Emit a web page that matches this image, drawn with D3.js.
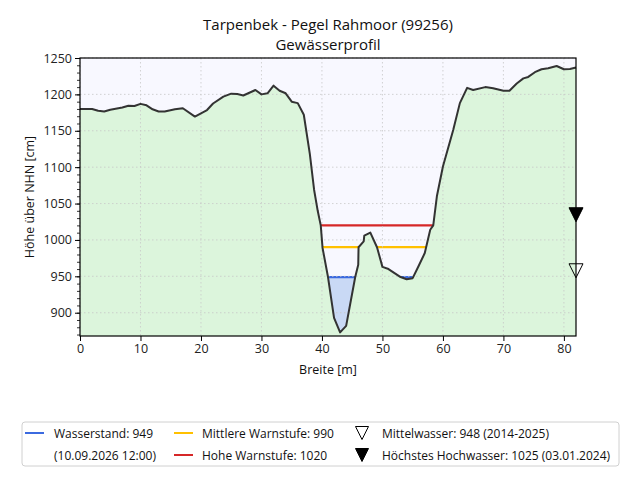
<!DOCTYPE html>
<html>
<head>
<meta charset="utf-8">
<script src="https://cdn.jsdelivr.net/npm/d3@7"></script>
<style>
  html, body { margin: 0; padding: 0; background: #fff; }
  svg { display: block; font-family: "Open Sans", "Noto Sans", sans-serif; }
</style>
</head>
<body>
<svg id="chart" width="640" height="480"></svg>
<script>
// Gewässerprofil: Breite [m] und Höhe [cm]
const profileX = [0, 2, 3, 4, 5, 7, 8, 9, 10, 11, 12, 13, 14, 15.7, 17, 19, 21, 22, 23.7, 25, 26, 27, 29, 30, 31, 32, 33, 34, 35, 36, 37, 38, 38.7, 39.3, 39.8, 40.1, 41, 42, 43, 44, 45.5, 46, 46.05, 46.9, 47, 48, 49.1, 50, 51, 53, 54, 55, 56, 57, 57.9, 58.4, 59, 60, 61.7, 62.8, 64, 65, 67, 68.3, 70, 71, 72.2, 73.3, 74.1, 75.2, 76.3, 77.4, 78.8, 80, 81, 82];
const profileH = [1180, 1180, 1177.5, 1176.5, 1179, 1182, 1184.5, 1184, 1187, 1185, 1179.5, 1176.5, 1176.5, 1179.5, 1181, 1169.5, 1178.5, 1187.5, 1197, 1201, 1200.5, 1198.5, 1206, 1200, 1201.5, 1212, 1205, 1201.5, 1190, 1188, 1172, 1118, 1069, 1040, 1020, 989, 949, 893, 873, 882, 949, 966, 990, 998, 1006, 1010, 990, 963, 960, 949, 946, 947.5, 964.5, 982, 1014, 1020, 1060, 1101, 1151, 1188, 1209, 1206, 1210, 1208.5, 1205, 1205, 1215, 1222, 1224, 1230.5, 1234.5, 1236, 1239, 1234.5, 1235, 1237];

const wasserstand = 949;
const levelNames = ['Mittlere Warnstufe', 'Hohe Warnstufe'];
const levelValues = [990, 1020];
const levelColors = ['#ffc000', '#d62728'];
const markerNames = ['Mittelwasser: 948 (2014-2025)', 'Höchstes Hochwasser: 1025 (03.01.2024)'];
const markerValues = [948, 1025];

const xTicks = [0, 10, 20, 30, 40, 50, 60, 70, 80];
const yTicks = [900, 950, 1000, 1050, 1100, 1150, 1200, 1250];

const margin = { top: 58, right: 64, bottom: 144, left: 80 };
const width = 640 - margin.left - margin.right;
const height = 480 - margin.top - margin.bottom;

const svg = d3.select('#chart');
const g = svg.append('g').attr('transform', `translate(${margin.left},${margin.top})`);

const x = d3.scaleLinear().domain([0, 82]).range([0, width]);
const y = d3.scaleLinear().domain([868, 1250]).range([height, 0]);

const profile = profileX.map((d, i) => ({ x: d, h: profileH[i] }));

// Hintergrund
g.append('rect').attr('width', width).attr('height', height).attr('fill', '#f8f8ff');

// Gelände
const ground = d3.area().x(d => x(d.x)).y0(height).y1(d => y(d.h));
g.append('path').datum(profile).attr('d', ground).attr('fill', '#dcf5dc');

// Clip: Bereich oberhalb des Profils
const sky = d3.area().x(d => x(d.x)).y0(0).y1(d => y(d.h));
svg.append('defs').append('clipPath').attr('id', 'sky')
    .append('path').datum(profile).attr('d', sky);

const water = g.append('g').attr('clip-path', 'url(#sky)');
water.append('rect')
    .attr('x', 0).attr('width', width)
    .attr('y', y(wasserstand)).attr('height', height - y(wasserstand))
    .attr('fill', '#c9d9f5');

// Gitter
g.append('g').selectAll('line').data(xTicks).enter().append('line')
    .attr('x1', d => x(d)).attr('x2', d => x(d)).attr('y1', 0).attr('y2', height)
    .attr('stroke', '#c8c8c8').attr('stroke-width', 0.8).attr('stroke-dasharray', '1.5,2.5');
g.append('g').selectAll('line').data(yTicks).enter().append('line')
    .attr('x1', 0).attr('x2', width).attr('y1', d => y(d)).attr('y2', d => y(d))
    .attr('stroke', '#c8c8c8').attr('stroke-width', 0.8).attr('stroke-dasharray', '1.5,2.5');

// Pegellinien
water.append('line')
    .attr('x1', 0).attr('x2', width).attr('y1', y(wasserstand)).attr('y2', y(wasserstand))
    .attr('stroke', '#3b6ae0').attr('stroke-width', 2.2);
levelValues.forEach((v, i) => {
    water.append('line')
        .attr('x1', 0).attr('x2', width).attr('y1', y(v)).attr('y2', y(v))
        .attr('stroke', levelColors[i]).attr('stroke-width', 2.2);
});

// Profil
const line = d3.line().x(d => x(d.x)).y(d => y(d.h));
g.append('path').datum(profile).attr('d', line)
    .attr('fill', 'none').attr('stroke', '#333').attr('stroke-width', 2).attr('stroke-linejoin', 'round');

// Achsen
const xAxis = g.append('g').attr('transform', `translate(0,${height})`)
    .call(d3.axisBottom(x).tickValues(xTicks).tickSize(5).tickPadding(3).tickFormat(d3.format('d')));
const yMinor = g.append('g')
    .call(d3.axisLeft(y).tickValues(d3.range(870, 1251, 10)).tickSize(3).tickFormat(''));
const yAxis = g.append('g')
    .call(d3.axisLeft(y).tickValues(yTicks).tickSize(5).tickPadding(3).tickFormat(d3.format('d')));
[xAxis, yAxis, yMinor].forEach(a => {
    a.select('.domain').remove();
    a.selectAll('line').attr('stroke', '#000').attr('stroke-width', 1);
    a.selectAll('text').attr('font-size', 12.5).attr('fill', '#222')
        .attr('font-family', '"Open Sans", sans-serif');
});
yMinor.selectAll('line').attr('stroke-width', 0.8);

g.append('rect').attr('width', width).attr('height', height)
    .attr('fill', 'none').attr('stroke', '#000').attr('stroke-width', 1.2);

// Marker am rechten Rand (Spitze auf dem Wert)
const tri = 7;
markerValues.forEach((v, i) => {
    const px = x(82), py = y(v);
    g.append('path')
        .attr('d', `M${px - tri},${py - 2 * tri} L${px + tri},${py - 2 * tri} L${px},${py} Z`)
        .attr('fill', i === 0 ? 'none' : '#000')
        .attr('stroke', '#000').attr('stroke-width', 1);
});

// Titel und Beschriftungen
svg.append('text').attr('x', margin.left + width / 2).attr('y', 30)
    .attr('text-anchor', 'middle').attr('font-size', 15).attr('fill', '#111')
    .text('Tarpenbek - Pegel Rahmoor (99256)');
svg.append('text').attr('x', margin.left + width / 2).attr('y', 50)
    .attr('text-anchor', 'middle').attr('font-size', 15).attr('fill', '#111')
    .text('Gewässerprofil');
svg.append('text').attr('x', margin.left + width / 2).attr('y', 374)
    .attr('text-anchor', 'middle').attr('font-size', 12.5).attr('fill', '#111')
    .text('Breite [m]');
svg.append('text').attr('transform', `translate(34,${margin.top + height / 2}) rotate(-90)`)
    .attr('text-anchor', 'middle').attr('font-size', 12.5).attr('fill', '#111')
    .text('Höhe über NHN [cm]');

// Legende
const leg = svg.append('g').attr('font-size', 12).attr('fill', '#111');
leg.append('rect').attr('x', 22).attr('y', 422).attr('width', 597).attr('height', 44)
    .attr('rx', 3).attr('fill', '#fff').attr('stroke', '#d0d0d0');
const row = [433, 455];
leg.append('line').attr('x1', 25).attr('x2', 44).attr('y1', row[0]).attr('y2', row[0])
    .attr('stroke', '#3b6ae0').attr('stroke-width', 2);
leg.append('text').attr('x', 54).attr('y', row[0] + 4.5).text(`Wasserstand: ${wasserstand}`);
leg.append('text').attr('x', 54).attr('y', row[1] + 4.5).text('(10.09.2026 12:00)');
levelValues.forEach((v, i) => {
    leg.append('line').attr('x1', 174).attr('x2', 193).attr('y1', row[i]).attr('y2', row[i])
        .attr('stroke', levelColors[i]).attr('stroke-width', 2);
    leg.append('text').attr('x', 202).attr('y', row[i] + 4.5).text(`${levelNames[i]}: ${v}`);
});
markerNames.forEach((t, i) => {
    const cx = 362, cy = row[i];
    leg.append('path')
        .attr('d', `M${cx - 6.5},${cy - 6.5} L${cx + 6.5},${cy - 6.5} L${cx},${cy + 6.5} Z`)
        .attr('fill', i === 0 ? 'none' : '#000').attr('stroke', '#000').attr('stroke-width', 1);
    leg.append('text').attr('x', 382).attr('y', cy + 4.5).text(t);
});
</script>
</body>
</html>
